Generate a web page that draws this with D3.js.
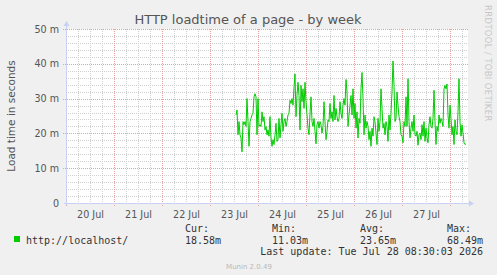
<!DOCTYPE html>
<html>
<head>
<meta charset="utf-8">
<script src="https://cdn.jsdelivr.net/npm/d3@7"></script>
<style>
body { margin: 0; background: #f0f0f0; }
svg { display: block; }
</style>
</head>
<body>
<div id="chart"></div>
<script>
const title = "HTTP loadtime of a page - by week";
const yLabel = "Load time in seconds";
const seriesName = "http://localhost/";
const watermark = "RRDTOOL / TOBI OETIKER";
const footer = "Munin 2.0.49";
const lastUpdate = "Last update: Tue Jul 28 08:30:03 2026";

// first sample and sample interval (one value every 30 minutes)
const firstSample = new Date(2026, 6, 23, 13, 0);
const stepMinutes = 30;

// load time in milliseconds
const loadMs = [
  25.3,26.7,19.6,23.4,19.6,18.7,14.7,23.4,22.5,23.4,22.0,30.0,23.4,16.3,23.4,24.3,25.3,25.8,30.5,31.4,
  30.5,19.6,30.0,22.0,22.5,22.0,26.2,23.4,24.8,21.0,22.0,19.6,21.0,19.2,24.8,18.7,16.3,18.2,16.8,19.6,
  22.9,17.7,18.2,24.3,18.7,22.5,25.8,20.6,23.4,24.3,22.0,23.4,25.3,25.8,29.5,28.6,30.0,28.1,33.3,37.1,
  24.8,30.9,34.7,30.9,21.0,33.8,29.1,32.8,27.2,34.7,29.1,25.3,21.5,19.6,25.8,30.5,23.4,22.0,24.3,20.6,
  17.0,22.5,23.4,21.5,23.4,22.5,20.1,22.0,29.1,23.4,18.2,20.6,23.9,23.4,28.6,24.3,26.2,23.4,30.9,23.9,
  27.2,24.8,23.4,24.3,29.1,25.8,24.3,28.1,30.0,28.1,35.5,31.9,22.0,25.3,
  28.1,30.9,25.3,32.8,24.3,28.6,21.5,26.2,18.7,24.3,22.9,32.8,37.5,30.0,19.6,25.3,21.5,23.4,22.0,18.2,
  20.6,16.3,21.5,19.2,24.8,23.4,20.1,16.8,24.3,20.6,23.4,32.8,27.2,21.5,22.9,19.6,23.4,22.0,17.7,25.3,
  21.0,25.8,31.9,40.8,33.8,23.4,24.3,31.9,28.1,24.8,23.4,19.6,19.2,17.3,23.4,22.0,30.5,22.0,35.7,23.4,
  18.7,21.5,23.4,20.6,25.3,19.6,19.2,20.6,16.6,19.6,20.1,18.2,22.5,19.2,23.4,17.7,21.5,18.7,17.3,22.5,
  24.8,22.0,21.5,24.3,32.4,23.4,16.8,22.0,20.6,25.3,22.9,24.3,23.4,22.0,32.8,33.8,32.8,34.2,25.3,21.5,
  28.1,24.3,19.6,22.0,16.8,23.9,20.6,19.6,26.2,35.7,23.4,19.2,22.5,20.1,17.3,16.8,17.0
];

const yTicks = [0, 10, 20, 30, 40, 50];
const yTickLabels = ["0", "10 m", "20 m", "30 m", "40 m", "50 m"];
const dayLabels = ["20 Jul", "21 Jul", "22 Jul", "23 Jul", "24 Jul", "25 Jul", "26 Jul", "27 Jul"];
const legendHeads = ["Cur:", "Min:", "Avg:", "Max:"];
const legendValues = ["18.58m", "11.03m", "23.65m", "68.49m"];

const W = 497, H = 275;
const plot = { left: 66, right: 466, top: 29, bottom: 203 };
const lineColor = "#00cc00";

const data = loadMs.map((v, i) => ({
  t: d3.timeMinute.offset(firstSample, i * stepMinutes),
  v: v
}));

const tEnd = data[data.length - 1].t;
const tStart = d3.timeHour.offset(tEnd, -200);

const x = d3.scaleTime().domain([tStart, tEnd]).range([plot.left, plot.right]);
const y = d3.scaleLinear().domain([0, 50]).range([plot.bottom, plot.top]);

const svg = d3.select("#chart").append("svg")
  .attr("width", W).attr("height", H)
  .style("font-family", "'DejaVu Sans', sans-serif");

svg.append("rect").attr("width", W).attr("height", H).attr("fill", "#f0f0f0");

// plot background
svg.append("rect")
  .attr("x", plot.left).attr("y", plot.top)
  .attr("width", plot.right - plot.left + 2)
  .attr("height", plot.bottom - plot.top)
  .attr("fill", "#ffffff");

const grid = svg.append("g").attr("shape-rendering", "crispEdges");

// minor grid: every 2 m, every 6 hours
const minorY = d3.range(2, 50, 2).filter(d => d % 10 !== 0);
const minorX = d3.timeHour.every(6).range(tStart, tEnd).filter(d => d.getHours() !== 0);

grid.selectAll(".my").data(minorY).enter().append("line")
  .attr("x1", plot.left).attr("x2", plot.right + 2)
  .attr("y1", d => Math.round(y(d)) + 0.5).attr("y2", d => Math.round(y(d)) + 0.5)
  .attr("stroke", "#d0d0d0").attr("stroke-dasharray", "1,1");

grid.selectAll(".mx").data(minorX).enter().append("line")
  .attr("x1", d => Math.round(x(d)) + 0.5).attr("x2", d => Math.round(x(d)) + 0.5)
  .attr("y1", plot.top).attr("y2", plot.bottom + 2)
  .attr("stroke", "#d0d0d0").attr("stroke-dasharray", "1,1");

// major grid: every 10 m, every day
const majorX = d3.timeDay.range(tStart, tEnd);

grid.selectAll(".Y").data(yTicks.slice(1)).enter().append("line")
  .attr("x1", plot.left - 3).attr("x2", plot.right + 2)
  .attr("y1", d => Math.round(y(d)) + 0.5).attr("y2", d => Math.round(y(d)) + 0.5)
  .attr("stroke", "#e6a2a2").attr("stroke-dasharray", "1,1");

grid.selectAll(".X").data(majorX).enter().append("line")
  .attr("x1", d => Math.round(x(d)) + 0.5).attr("x2", d => Math.round(x(d)) + 0.5)
  .attr("y1", plot.top).attr("y2", plot.bottom + 3)
  .attr("stroke", "#e6a2a2").attr("stroke-dasharray", "1,1");

// axis lines with arrows
const axisColor = "#c8d0f4";
svg.append("line")
  .attr("x1", plot.left + 0.5).attr("x2", plot.left + 0.5)
  .attr("y1", plot.bottom + 2).attr("y2", plot.top - 5)
  .attr("stroke", axisColor).attr("shape-rendering", "crispEdges");
svg.append("line")
  .attr("x1", plot.left - 2).attr("x2", plot.right + 4)
  .attr("y1", plot.bottom + 0.5).attr("y2", plot.bottom + 0.5)
  .attr("stroke", axisColor).attr("shape-rendering", "crispEdges");
svg.append("path")
  .attr("d", `M${plot.left - 2.5},${plot.top - 3} L${plot.left + 3.5},${plot.top - 3} L${plot.left + 0.5},${plot.top - 8} Z`)
  .attr("fill", axisColor);
svg.append("path")
  .attr("d", `M${plot.right + 3},${plot.bottom - 2.5} L${plot.right + 3},${plot.bottom + 3.5} L${plot.right + 8},${plot.bottom + 0.5} Z`)
  .attr("fill", axisColor);

// y axis labels
const yAxis = d3.axisLeft(y)
  .tickValues(yTicks)
  .tickFormat((d, i) => yTickLabels[i])
  .tickSize(0).tickPadding(7);
const gy = svg.append("g").attr("transform", `translate(${plot.left},0)`).call(yAxis);
gy.select(".domain").remove();
gy.selectAll("text")
  .attr("fill", "#555").style("font-size", "9.6px")
  .style("font-family", "'DejaVu Sans', sans-serif");

// x axis labels at midday
const middays = majorX.map(d => d3.timeHour.offset(d, 12)).filter(d => d < tEnd);
const xAxis = d3.axisBottom(x)
  .tickValues(middays)
  .tickFormat((d, i) => dayLabels[i])
  .tickSize(0).tickPadding(8);
const gx = svg.append("g").attr("transform", `translate(0,${plot.bottom})`).call(xAxis);
gx.select(".domain").remove();
gx.selectAll("text")
  .attr("fill", "#555").style("font-size", "9.6px")
  .style("font-family", "'DejaVu Sans', sans-serif");

// series
const line = d3.line().x(d => x(d.t)).y(d => y(d.v));
svg.append("path")
  .datum(data)
  .attr("d", line)
  .attr("fill", "none")
  .attr("stroke", lineColor)
  .attr("stroke-width", 1);

// title
svg.append("text")
  .attr("x", 248).attr("y", 24)
  .attr("text-anchor", "middle")
  .attr("fill", "#555")
  .style("font-size", "13px")
  .text(title);

// y label
svg.append("text")
  .attr("transform", "translate(15,116) rotate(-90)")
  .attr("text-anchor", "middle")
  .attr("fill", "#555")
  .style("font-size", "10.5px")
  .text(yLabel);

// watermark
svg.append("text")
  .attr("transform", "translate(485,5) rotate(90)")
  .attr("fill", "#c8c8c8")
  .style("font-size", "8.4px")
  .style("letter-spacing", "0.4px")
  .text(watermark);

// legend
const mono = "'DejaVu Sans Mono', monospace";
svg.append("rect")
  .attr("x", 14).attr("y", 236).attr("width", 6).attr("height", 6)
  .attr("fill", lineColor);
svg.append("text")
  .attr("x", 26).attr("y", 244)
  .attr("fill", "#333").style("font-family", mono).style("font-size", "10px")
  .text(seriesName);

const colX = [185, 272, 360, 447];
svg.selectAll(".lh").data(legendHeads).enter().append("text")
  .attr("x", (d, i) => colX[i]).attr("y", 232)
  .attr("fill", "#333").style("font-family", mono).style("font-size", "10px")
  .text(d => d);
svg.selectAll(".lv").data(legendValues).enter().append("text")
  .attr("x", (d, i) => colX[i]).attr("y", 244)
  .attr("fill", "#333").style("font-family", mono).style("font-size", "10px")
  .text(d => d);

svg.append("text")
  .attr("x", 483).attr("y", 255)
  .attr("text-anchor", "end")
  .attr("fill", "#333").style("font-family", mono).style("font-size", "10px")
  .text(lastUpdate);

svg.append("text")
  .attr("x", 249).attr("y", 269)
  .attr("text-anchor", "middle")
  .attr("fill", "#b8b8b8")
  .style("font-size", "7px")
  .text(footer);
</script>
</body>
</html>
